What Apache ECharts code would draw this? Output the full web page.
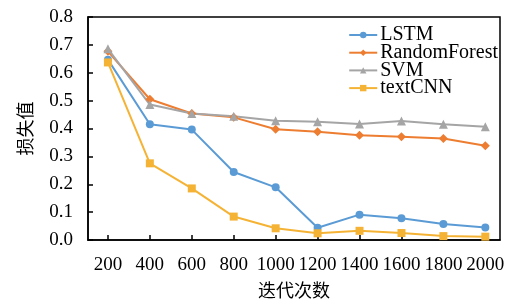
<!DOCTYPE html>
<html>
<head>
<meta charset="utf-8">
<script src="https://cdn.jsdelivr.net/npm/echarts@6/dist/echarts.min.js"></script>
<style>
  html, body { margin: 0; padding: 0; background: #fff; }
  #main { width: 511px; height: 306px; }
</style>
</head>
<body>
<div id="main"></div>
<script>
// 迭代次数
const iters = [200, 400, 600, 800, 1000, 1200, 1400, 1600, 1800, 2000];
const yTicks = [0, 0.1, 0.2, 0.3, 0.4, 0.5, 0.6, 0.7, 0.8];

// 各模型损失值
const lstm = [0.647, 0.415, 0.396, 0.244, 0.189, 0.044, 0.091, 0.078, 0.057, 0.045];
const randomForest = [0.677, 0.505, 0.454, 0.440, 0.397, 0.388, 0.376, 0.370, 0.364, 0.338];
const svm = [0.686, 0.486, 0.454, 0.444, 0.428, 0.424, 0.416, 0.427, 0.415, 0.406];
const textCNN = [0.637, 0.275, 0.185, 0.084, 0.042, 0.024, 0.033, 0.025, 0.014, 0.012];

const serif = 'Liberation Serif';
const cjk = 'Noto Sans CJK SC';

function pairs(vals) {
  return iters.map((x, i) => [x, vals[i]]);
}

function line(name, vals, color, symbol, size) {
  return {
    name: name,
    type: 'line',
    data: pairs(vals),
    symbol: symbol,
    symbolSize: size,
    lineStyle: { color: color, width: 2 },
    itemStyle: { color: color },
    emphasis: { disabled: true }
  };
}

const chart = echarts.init(document.getElementById('main'));

const option = {
  backgroundColor: '#fff',
  animation: false,
  textStyle: { fontFamily: serif },
  grid: {
    left: 88, right: 11, top: 17, bottom: 66,
    outerBoundsMode: 'none',
    containLabel: false,
    show: true, borderColor: '#000', borderWidth: 1.5,
    backgroundColor: 'transparent'
  },
  legend: {
    right: 8, top: 20,
    orient: 'vertical',
    itemWidth: 28, itemHeight: 8, itemGap: -2.3,
    textStyle: { fontFamily: serif, fontSize: 20, color: '#000', lineHeight: 16, padding: [0, 0, 0, -2] },
    data: ['LSTM', 'RandomForest', 'SVM', 'textCNN']
  },
  xAxis: {
    type: 'value',
    min: 105, max: 2070,
    name: '迭代次数',
    nameLocation: 'middle',
    nameGap: 41,
    nameTextStyle: { fontFamily: cjk, fontSize: 18, color: '#000' },
    axisLine: { lineStyle: { color: '#000', width: 1.5 } },
    axisTick: { inside: true, length: 5, lineStyle: { color: '#000', width: 1.5 }, customValues: iters },
    axisLabel: {
      customValues: iters, hideOverlap: false,
      fontFamily: serif, fontSize: 19, color: '#000', margin: 16,
      formatter: v => String(v)
    },
    splitLine: { show: false }
  },
  yAxis: {
    type: 'value',
    min: 0, max: 0.8, interval: 0.1,
    name: '损失值',
    nameLocation: 'middle',
    nameRotate: 90,
    nameGap: 54,
    nameTextStyle: { fontFamily: cjk, fontSize: 18, color: '#000' },
    axisLine: { show: true, lineStyle: { color: '#000', width: 1.5 } },
    axisTick: { show: true, inside: true, length: 5, lineStyle: { color: '#000', width: 1.5 }, customValues: yTicks },
    axisLabel: {
      customValues: yTicks,
      fontFamily: serif, fontSize: 19, color: '#000', margin: 15,
      formatter: v => v.toFixed(1)
    },
    splitLine: { show: false }
  },
  series: [
    line('LSTM', lstm, '#5b9bd5', 'circle', 8),
    line('RandomForest', randomForest, '#ed7d31', 'diamond', 9),
    line('SVM', svm, '#a5a5a5', 'triangle', 9),
    line('textCNN', textCNN, '#f5b335', 'rect', 8)
  ]
};

chart.setOption(option);
</script>
</body>
</html>
